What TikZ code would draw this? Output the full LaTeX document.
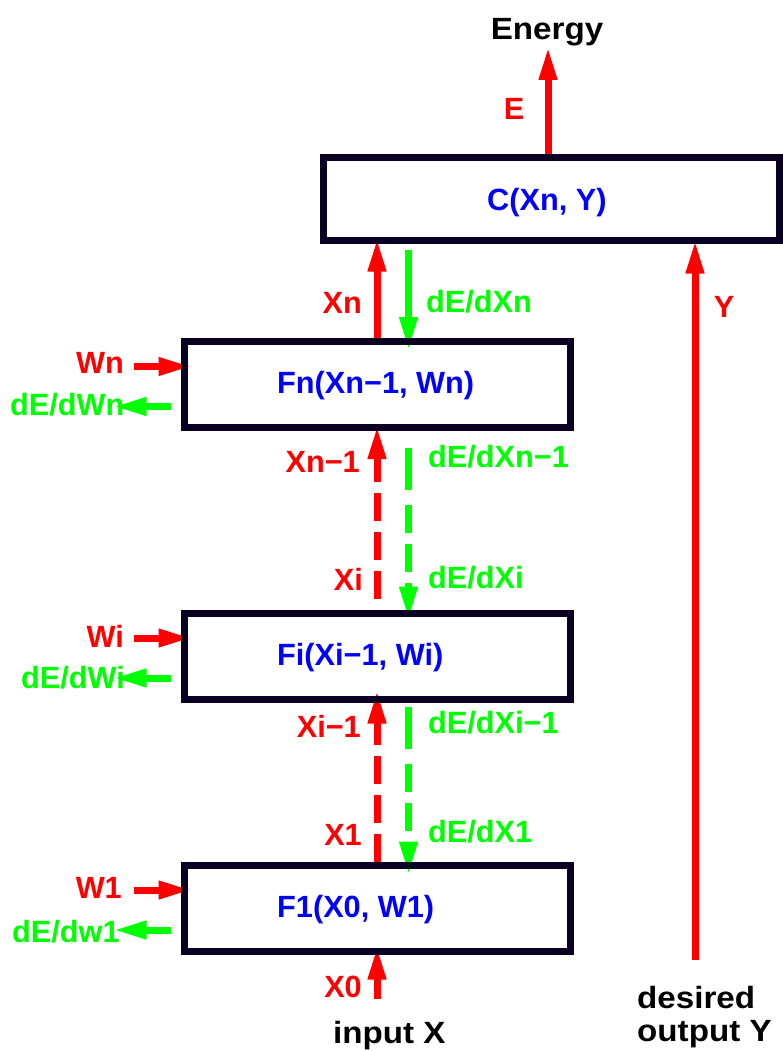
\documentclass[tikz,border=0pt]{standalone}
\usepackage{fontspec}
\setmainfont{Liberation Sans}
\newfontfamily\widefont{Liberation Sans}[FakeStretch=1.08]
\usetikzlibrary{arrows.meta,calc}

\definecolor{boxline}{RGB}{10,0,35}
\definecolor{fwdred}{RGB}{255,0,0}
\definecolor{bckgreen}{RGB}{0,255,0}
\definecolor{fnblue}{RGB}{0,0,255}

\pgfdeclarelayer{front}
\pgfsetlayers{main,front}

\tikzset{
  lab/.style={font=\fontsize{30.7}{33}\selectfont\bfseries, inner sep=0pt},
  fntext/.style={lab, text=fnblue, anchor=base west},
  fwdlab/.style={lab, text=fwdred, anchor=base east},
  bcklab/.style={lab, text=bckgreen, anchor=base west},
  plain/.style={lab, font=\fontsize{30.7}{33}\selectfont\widefont\bfseries},
  box/.style={draw=boxline, line width=7pt, minimum width=386pt, minimum height=86pt, inner sep=0pt},
  fwd/.style={draw=fwdred, line width=7pt, -{Triangle[length=33pt,width=17pt]}},
  bck/.style={draw=bckgreen, line width=7pt, -{Triangle[length=33pt,width=17pt]}},
  fwddash/.style={dash pattern=on 28pt off 11pt},
  bckdash/.style={dash pattern=on 42pt off 15pt on 28pt off 11pt on 28pt off 11pt}
}

\begin{document}
\begin{tikzpicture}[x=1pt,y=-1pt]
  \useasboundingbox (0,0) rectangle (782,1051);

  % boxes
  \begin{pgfonlayer}{front}
    \node[box, minimum width=456pt, minimum height=82.5pt] (C) at (551.5,198.75) {};
    \node[box] (Fn) at (377,384.5) {};
    \node[box] (Fi) at (377,656) {};
    \node[box] (F1) at (377,908) {};
  \end{pgfonlayer}

  \node[fntext] (Ctext) at (487,210) {C(Xn, Y)};
  \node[fntext] (Fntext) at (277,393) {Fn(Xn−1, Wn)};
  \node[fntext] (Fitext) at (277,665) {Fi(Xi−1, Wi)};
  \node[fntext] (F1text) at (277,917) {F1(X0, W1)};

  % free ends
  \coordinate (bckx) at (408.5,0);
  \coordinate (Etip) at (548,47);
  \coordinate (Ybase) at (695,960);
  \coordinate (X0base) at (377,999);

  % labels
  \node[plain, anchor=base] (energy) at (547,40) {Energy};
  \node[lab, text=fwdred, anchor=base] (Elab) at (514,120) {E};
  \node[lab, text=fwdred, anchor=base] (Ylab) at (724,317) {Y};
  \node[fwdlab] (Xnlab) at (362,313) {Xn};
  \node[bcklab] (dXnlab) at (426,312) {dE/dXn};
  \node[fwdlab] (Wnlab) at (124,373) {Wn};
  \node[bcklab] (dWnlab) at (10,415) {dE/dWn};
  \node[fwdlab] (Xn1lab) at (360,472) {Xn−1};
  \node[bcklab] (dXn1lab) at (428,467) {dE/dXn−1};
  \node[fwdlab] (Xilab) at (363,590) {Xi};
  \node[bcklab] (dXilab) at (428,588) {dE/dXi};
  \node[fwdlab] (Wilab) at (124,647) {Wi};
  \node[bcklab] (dWilab) at (21,688) {dE/dWi};
  \node[fwdlab] (Xi1lab) at (361,737) {Xi−1};
  \node[bcklab] (dXi1lab) at (428,733) {dE/dXi−1};
  \node[fwdlab] (X1lab) at (362,845) {X1};
  \node[bcklab] (dX1lab) at (428,842) {dE/dX1};
  \node[fwdlab] (W1lab) at (122,898) {W1};
  \node[bcklab] (dw1lab) at (12,942) {dE/dw1};
  \node[fwdlab] (X0lab) at (362,997) {X0};
  \node[plain, anchor=base west] (inputX) at (333,1043) {input X};
  \node[plain, anchor=base west] (desired) at (637,1008) {desired};
  \node[plain, anchor=base west] (outputY) at (637,1041) {output Y};

  % forward and backward arrows
  \draw[fwd] (Etip |- C.north) -- (Etip);
  \draw[fwd] (Fn.north) -- ($(C.south -| Fn.north)+(0,-5)$);
  \draw[bck] ($(C.south -| bckx)+(0,6)$) -- ($(Fn.north -| bckx)+(0,12)$);
  \draw[fwd] (Ybase) -- ($(C.south -| Ybase)+(0,-3)$);
  \draw[fwd, fwddash, dash phase=28pt] (Fi.north) -- ($(Fn.south)+(0,-5)$);
  \draw[bck, bckdash] ($(Fn.south -| bckx)+(0,17)$) -- ($(Fi.north -| bckx)+(0,10)$);
  \draw[fwd, fwddash] (F1.north) -- ($(Fi.south)+(0,-12)$);
  \draw[bck, bckdash] ($(Fi.south -| bckx)+(0,4)$) -- ($(F1.north -| bckx)+(0,13)$);
  \draw[fwd] (X0base) -- ($(F1.south)+(0,-8)$);
  \foreach \f in {Fn,Fi,F1}
  {
    \draw[fwd] ($(\f.west)+(-47,-18)$) -- ($(\f.west)+(11,-18)$);
    \draw[bck] ($(\f.west)+(-10,22)$) -- ($(\f.west)+(-67,22)$);
  }
\end{tikzpicture}
\end{document}
